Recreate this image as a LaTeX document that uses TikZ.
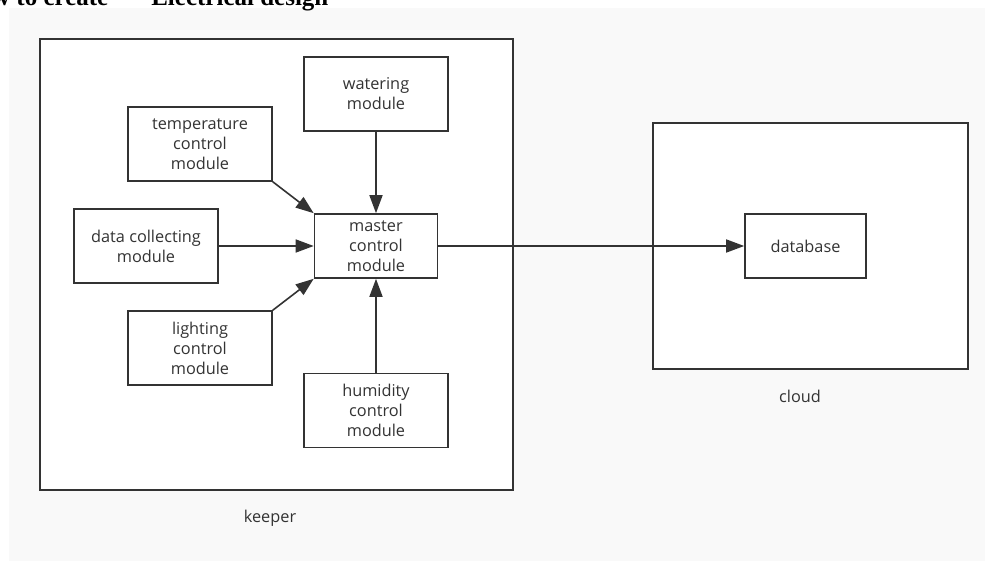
\documentclass[tikz,border=0pt]{standalone}
\usepackage{fontspec}
\setmainfont{Open Sans}
\newfontfamily\headfont{Liberation Serif}
\usetikzlibrary{arrows.meta, positioning}
\definecolor{linegray}{HTML}{333333}
\definecolor{canvas}{HTML}{F9F9F9}

\begin{document}
\begin{tikzpicture}[
  x=1pt, y=-1pt,
  every node/.style={font=\fontsize{16.3}{20}\selectfont, text=linegray},
  module/.style={draw=linegray, line width=1.6pt, fill=white, minimum width=144pt,
                 minimum height=74pt, align=center, inner sep=0pt},
  frame/.style={draw=linegray, line width=1.6pt, fill=white, inner sep=0pt},
  arrow/.style={-{Triangle[length=18pt, width=13pt]}, line width=1.6pt, color=linegray},
]

% Canvas
\useasboundingbox (0,0) rectangle (985,561);
\clip (0,0) rectangle (985,561);
\fill[canvas] (9,8) rectangle (985,561);
\node[font=\headfont\bfseries\fontsize{25}{30}\selectfont, text=black, anchor=base west,
      inner sep=0pt] (heading) at (-8,6) {w to create\hspace{43pt}Electrical design};

% Keeper boundary
\node[frame, minimum width=473pt, minimum height=451pt] (keeper) at (276.5,264.5) {};
\node (keeperlabel) at (270,518) {keeper};

% Cloud boundary
\node[frame, minimum width=315pt, minimum height=246pt] (cloud) at (810.5,246) {};
\node (cloudlabel) at (800,396) {cloud};

% Modules
\node[module] (watering) at (376,94) {watering\\module};
\node[module] (temperature) at (200,144) {temperature\\control\\module};
\node[module] (collecting) at (146,246) {data collecting\\module};
\node[module] (lighting) at (200,348) {lighting\\control\\module};
\node[module] (humidity) at (376,410.5) {humidity\\control\\module};
\node[module, minimum width=123pt, minimum height=64pt] (master) at (376,246) {master\\control\\module};
\node[module, minimum width=121pt, minimum height=64pt] (database) at (805.5,246) {database};

% Arrows
\draw[arrow] (watering) -- (master);
\draw[arrow] (humidity) -- (master);
\draw[arrow] (collecting) -- (master);
\draw[arrow] (temperature.south east) -- (master.north west);
\draw[arrow] (lighting.north east) -- (master.south west);
\draw[arrow] (master) -- (database);

\end{tikzpicture}
\end{document}
